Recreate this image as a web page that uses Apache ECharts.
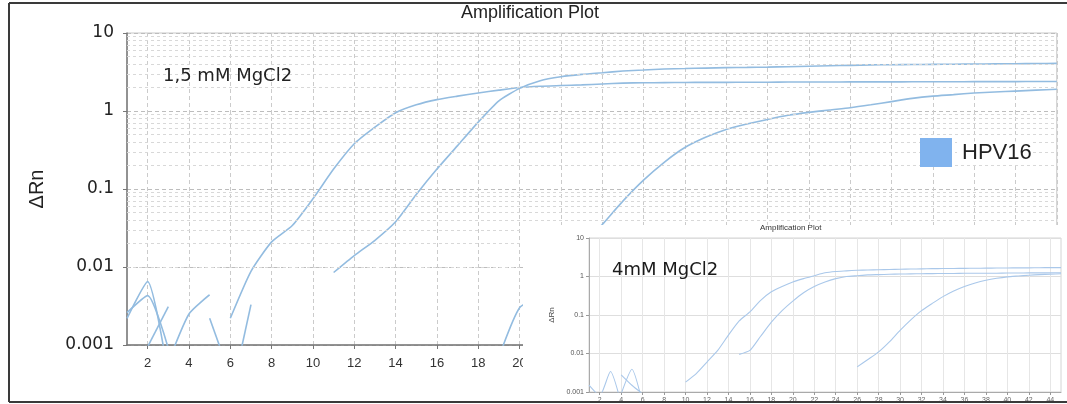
<!DOCTYPE html>
<html><head><meta charset="utf-8">
<script src="https://cdn.jsdelivr.net/npm/echarts@6/dist/echarts.min.js"></script>
<style>html,body{margin:0;padding:0;background:#fff}#c{width:1067px;height:404px}</style>
</head><body><div id="c"></div>
<script>
// ---------- main plot (1,5 mM MgCl2) ----------
const mainCycles = [1,2,3,4,5,6,7,8,9,10,11,12,13,14,15,16,17,18,19,20,21,22,23,24,25,26,27,28,29,30,31,32,33,34,35,36,37,38,39,40,41,42,43,44,45,46];
const mainCurveA = [null,null,null,null,null,0.0022,0.0088,0.021,0.034,0.075,0.18,0.38,0.62,0.95,1.2,1.4,1.55,1.7,1.85,2.0,2.08,2.12,2.16,2.22,2.28,2.3,2.31,2.32,2.33,2.33,2.34,2.34,2.35,2.35,2.35,2.36,2.36,2.36,2.37,2.37,2.37,2.38,2.38,2.38,2.39,2.39];
const mainCurveB = [null,null,null,null,null,null,null,null,null,null,0.0085,0.014,0.022,0.038,0.085,0.18,0.36,0.72,1.35,1.95,2.45,2.75,2.95,3.1,3.25,3.35,3.45,3.5,3.55,3.6,3.62,3.65,3.7,3.75,3.8,3.85,3.9,3.92,3.94,3.96,3.98,4.0,4.02,4.04,4.06,4.08];
const mainCurveC = [null,null,null,null,null,null,null,null,null,null,null,null,null,null,null,null,null,null,null,null,null,0.009,0.018,0.035,0.07,0.13,0.22,0.34,0.46,0.58,0.68,0.78,0.88,0.96,1.03,1.1,1.2,1.32,1.45,1.55,1.62,1.7,1.75,1.8,1.85,1.9];
// baseline noise fragments (cycles / values)
const noise1Cycles = [1,2,3];   const noise1Values = [0.0022,0.0065,0.0004];
const noise2Cycles = [1,2,3];   const noise2Values = [0.0026,0.0043,0.0009];
const noise3Cycles = [2,3];     const noise3Values = [0.00095,0.0031];
const noise4Cycles = [3,4,5];   const noise4Values = [0.0006,0.0025,0.0044];
const noise5Cycles = [5,6];     const noise5Values = [0.0022,0.0004];
const noise6Cycles = [6,7];     const noise6Values = [0.0002,0.0033];
const noise7Cycles = [19,20,21];const noise7Values = [0.0007,0.003,0.004];
const mainXTicks = [2,4,6,8,10,12,14,16,18,20,22,24,26,28,30,32,34,36,38,40,42,44,46];

// ---------- inset plot (4mM MgCl2) ----------
const insetCycles = [1,2,3,4,5,6,7,8,9,10,11,12,13,14,15,16,17,18,19,20,21,22,23,24,25,26,27,28,29,30,31,32,33,34,35,36,37,38,39,40,41,42,43,44,45];
const insetCurveA = [null,null,null,null,null,null,null,null,null,0.0018,0.003,0.006,0.012,0.03,0.07,0.12,0.24,0.4,0.55,0.72,0.88,1.05,1.25,1.35,1.4,1.45,1.48,1.5,1.52,1.54,1.56,1.58,1.6,1.61,1.62,1.63,1.64,1.65,1.66,1.67,1.68,1.68,1.69,1.7,1.7];
const insetCurveB = [null,null,null,null,null,null,null,null,null,null,null,null,null,null,0.0095,0.012,0.028,0.065,0.13,0.23,0.38,0.55,0.72,0.88,1.0,1.05,1.1,1.12,1.14,1.16,1.17,1.18,1.19,1.2,1.2,1.21,1.21,1.22,1.22,1.23,1.23,1.24,1.24,1.25,1.25];
const insetCurveC = [null,null,null,null,null,null,null,null,null,null,null,null,null,null,null,null,null,null,null,null,null,null,null,null,null,0.0045,0.007,0.011,0.02,0.04,0.075,0.13,0.2,0.3,0.42,0.55,0.68,0.8,0.9,0.98,1.03,1.08,1.12,1.15,1.18];
const inNoise1Cycles = [1,2,3,4]; const inNoise1Values = [0.0015,0.0008,0.0034,0.0005];
const inNoise2Cycles = [4,5,6];   const inNoise2Values = [0.0009,0.0039,0.0005];
const inNoise3Cycles = [4,5,6];   const inNoise3Values = [0.0028,0.0015,0.0009];
const insetXTicks = [2,4,6,8,10,12,14,16,18,20,22,24,26,28,30,32,34,36,38,40,42,44];

// shared log axis
const yDecades = [0.001,0.01,0.1,1,10];
const minorFactors = [2,3,4,5,6,7,8,9];

function pairs(xs, ys) {
  return xs.map((x, i) => [x, ys[i]]).filter(p => p[1] !== null && p[1] !== undefined);
}
const minorY = [];
yDecades.slice(0, -1).forEach(d => minorFactors.forEach(f => minorY.push(+(f * d).toPrecision(3))));

const MAIN_COLOR = '#93bce0';
const INSET_COLOR = '#aac8ea';

function mainLine(xs, ys) {
  return { name: 'HPV16', type: 'line', xAxisIndex: 0, yAxisIndex: 0, data: pairs(xs, ys),
    symbol: 'none', smooth: 0.2, lineStyle: { color: MAIN_COLOR, width: 1.6 }, itemStyle: { color: MAIN_COLOR }, z: 3 };
}
function insetLine(xs, ys) {
  return { name: 'HPV16 (4mM)', type: 'line', xAxisIndex: 1, yAxisIndex: 1, data: pairs(xs, ys),
    symbol: 'none', smooth: 0.2, lineStyle: { color: INSET_COLOR, width: 1.1 }, itemStyle: { color: INSET_COLOR }, z: 24 };
}

const chart = echarts.init(document.getElementById('c'));
chart.setOption({
  animation: false,
  backgroundColor: '#fff',
  title: [
    { text: 'Amplification Plot', left: 461, top: 4, padding: 0,
      textStyle: { fontSize: 18, fontWeight: 'normal', color: '#222', fontFamily: 'Liberation Sans' } },
    { text: '1,5 mM MgCl2', left: 163, top: 67, padding: 0,
      textStyle: { fontSize: 18, fontWeight: 'normal', color: '#222', fontFamily: 'DejaVu Sans' } },
    { text: 'Amplification Plot', left: 760, top: 224, padding: 0, z: 30,
      textStyle: { fontSize: 8, fontWeight: 'normal', color: '#333', fontFamily: 'Liberation Sans' } },
    { text: '4mM MgCl2', left: 612, top: 261, padding: 0, z: 30,
      textStyle: { fontSize: 18, fontWeight: 'normal', color: '#1a1a1a', fontFamily: 'DejaVu Sans' } }
  ],
  legend: {
    data: ['HPV16'], left: 920, top: 138, padding: 0, icon: 'rect', z: 50,
    itemWidth: 32, itemHeight: 29, itemStyle: { color: '#80b3ee', borderWidth: 0, opacity: 1 },
    textStyle: { fontSize: 22, color: '#222', fontFamily: 'Liberation Sans', padding: [0, 0, 0, 5], backgroundColor: '#fff' }
  },
  grid: [
    { left: 127, right: 5, top: 33, bottom: 59, show: true, borderColor: '#c8c8c8', borderWidth: 1, backgroundColor: 'transparent' },
    { left: 589, right: 6, top: 238, bottom: 9, show: true, borderColor: '#d4d4d4', borderWidth: 1, backgroundColor: '#fff', z: 20 }
  ],
  xAxis: [
    { type: 'value', gridIndex: 0, min: 1, max: 46,
      axisLine: { show: true, lineStyle: { color: '#777', width: 1.5 } },
      axisTick: { show: true, length: 4, customValues: mainXTicks, lineStyle: { color: '#777' } },
      axisLabel: { customValues: mainXTicks, fontSize: 13, color: '#333', fontFamily: 'Liberation Sans', margin: 12 },
      splitLine: { show: true, lineStyle: { color: '#cbcbcb', type: [4, 3], width: 1 } } },
    { type: 'value', gridIndex: 1, min: 1, max: 45, z: 22,
      axisLine: { show: true, lineStyle: { color: '#aaa', width: 1 } },
      axisTick: { show: true, length: 3, customValues: insetXTicks, lineStyle: { color: '#999' } },
      axisLabel: { customValues: insetXTicks, fontSize: 7, color: '#666', fontFamily: 'Liberation Sans', margin: 5 },
      splitLine: { show: true, lineStyle: { color: '#e6e6e6', width: 1 } } }
  ],
  yAxis: [
    { type: 'log', logBase: 10, gridIndex: 0, min: 0.001, max: 10,
      name: 'ΔRn', nameLocation: 'middle', nameGap: 80, nameRotate: 90,
      nameTextStyle: { fontSize: 20, color: '#222', fontFamily: 'Liberation Sans' },
      axisLine: { show: true, lineStyle: { color: '#777', width: 1.5 } },
      axisTick: { show: true, length: 4, lineStyle: { color: '#777' } },
      axisLabel: { fontSize: 17, color: '#222', fontFamily: 'DejaVu Sans', margin: 13, formatter: v => String(v) },
      splitLine: { show: true, lineStyle: { color: '#bdbdbd', type: [4, 3], width: 1 } } },
    { type: 'log', logBase: 10, gridIndex: 1, min: 0.001, max: 10, z: 22,
      name: 'ΔRn', nameLocation: 'middle', nameGap: 33, nameRotate: 90,
      nameTextStyle: { fontSize: 8, color: '#444', fontFamily: 'Liberation Sans' },
      axisLine: { show: true, lineStyle: { color: '#aaa', width: 1 } },
      axisTick: { show: true, length: 3, lineStyle: { color: '#999' } },
      axisLabel: { fontSize: 7, color: '#555', fontFamily: 'Liberation Sans', margin: 5, formatter: v => String(v) },
      splitLine: { show: true, lineStyle: { color: '#dedede', width: 1 } } }
  ],
  graphic: [
    { type: 'rect', shape: { x: 523, y: 225, width: 546, height: 181 }, style: { fill: '#fff' }, z: 10, silent: true },
    { type: 'rect', shape: { x: 920, y: 138, width: 32, height: 29 }, style: { fill: '#80b3ee' }, z: 60, silent: true },
    { type: 'line', shape: { x1: 9, y1: 3, x2: 1067, y2: 3 }, style: { stroke: '#3a3a3a', lineWidth: 2 }, z: 100 },
    { type: 'line', shape: { x1: 9, y1: 3, x2: 9, y2: 402 }, style: { stroke: '#3a3a3a', lineWidth: 2 }, z: 100 },
    { type: 'line', shape: { x1: 9, y1: 402, x2: 1067, y2: 402 }, style: { stroke: '#3a3a3a', lineWidth: 2 }, z: 100 }
  ],
  series: [
    { name: '_mainMinor', type: 'line', xAxisIndex: 0, yAxisIndex: 0, data: [], z: 1,
      markLine: { silent: true, symbol: ['none', 'none'], label: { show: false },
        lineStyle: { color: '#d8d8d8', type: [3, 3], width: 1 }, data: minorY.map(v => ({ yAxis: v })) } },
    { name: '_insetMinor', type: 'line', xAxisIndex: 1, yAxisIndex: 1, data: [], z: 21,
      markLine: { silent: true, symbol: ['none', 'none'], label: { show: false },
        lineStyle: { color: '#ececec', type: 'solid', width: 1 }, data: minorY.map(v => ({ yAxis: v })) } },
    mainLine(mainCycles, mainCurveA),
    mainLine(mainCycles, mainCurveB),
    mainLine(mainCycles, mainCurveC),
    mainLine(noise1Cycles, noise1Values),
    mainLine(noise2Cycles, noise2Values),
    mainLine(noise3Cycles, noise3Values),
    mainLine(noise4Cycles, noise4Values),
    mainLine(noise5Cycles, noise5Values),
    mainLine(noise6Cycles, noise6Values),
    mainLine(noise7Cycles, noise7Values),
    insetLine(insetCycles, insetCurveA),
    insetLine(insetCycles, insetCurveB),
    insetLine(insetCycles, insetCurveC),
    insetLine(inNoise1Cycles, inNoise1Values),
    insetLine(inNoise2Cycles, inNoise2Values),
    insetLine(inNoise3Cycles, inNoise3Values)
  ]
});
</script></body></html>
